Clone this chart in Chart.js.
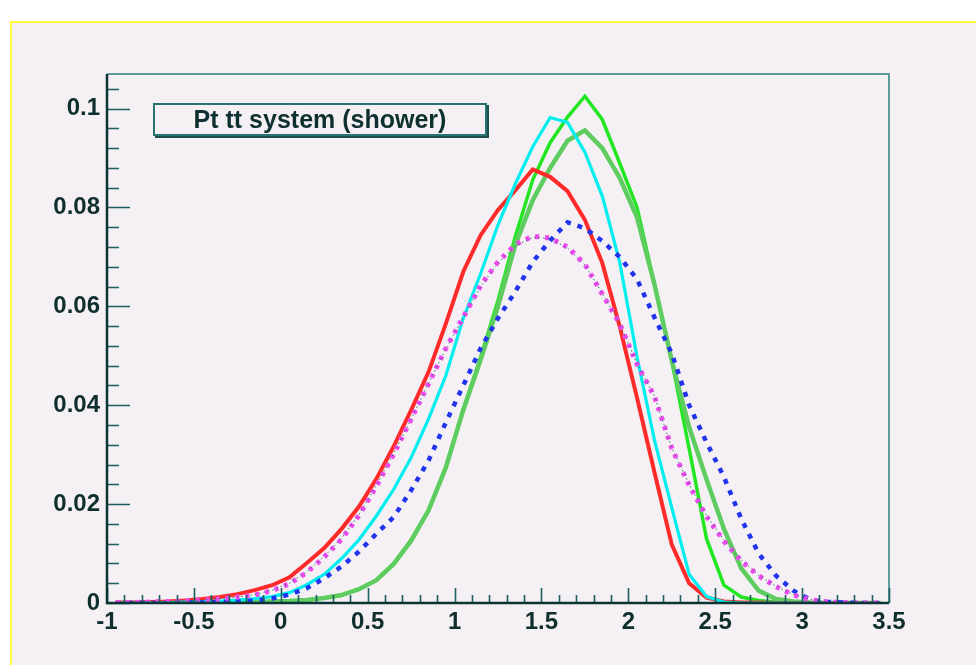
<!DOCTYPE html>
<html><head><meta charset="utf-8">
<script src="https://cdn.jsdelivr.net/npm/chart.js@4.4.1/dist/chart.umd.min.js"></script>
<style>
html,body{margin:0;padding:0;background:#ffffff;}
#wrap{position:relative;width:976px;height:665px;overflow:hidden;}
#bg{position:absolute;left:10px;top:21px;width:966px;height:644px;background:#f4f0f4;border-left:2px solid #ffff3a;border-top:2px solid #ffff3a;}
#c{position:absolute;left:0;top:0;}
#title{position:absolute;left:153px;top:103px;width:330px;height:29px;border:2px solid #2a7272;box-shadow:2px 2px 0 #1d4f4f;
 font:bold 25px "Liberation Sans",Arial,sans-serif;color:#0f3030;text-align:center;line-height:29px;background:#f4f0f4;}
</style></head>
<body>
<div id="wrap">
<div id="bg"></div>
<canvas id="c" width="976" height="665"></canvas>
<div id="title">Pt tt system (shower)</div>
</div>
<script>
// bin centres
const xValues = [-0.95,-0.85,-0.75,-0.65,-0.55,-0.45,-0.35,-0.25,-0.15,-0.05,
 0.05,0.15,0.25,0.35,0.45,0.55,0.65,0.75,0.85,0.95,
 1.05,1.15,1.25,1.35,1.45,1.55,1.65,1.75,1.85,1.95,
 2.05,2.15,2.25,2.35,2.45,2.55,2.65,2.75,2.85,2.95,
 3.05,3.15,3.25,3.35,3.45];

const redValues = [0.0001,0.0001,0.0002,0.0003,0.0005,0.0008,0.0012,0.0018,0.0026,0.0036,
 0.0052,0.0081,0.0111,0.0150,0.0195,0.0251,0.0317,0.0390,0.0467,0.0565,
 0.0670,0.0744,0.0795,0.0835,0.0877,0.0862,0.0833,0.0775,0.0688,0.0560,
 0.0415,0.0265,0.0118,0.0040,0.0011,0.0003,0.0001,0.0001,0,0,
 0,0,0,0,0];

const cyanValues = [0,0,0.0001,0.0001,0.0002,0.0003,0.0004,0.0006,0.0009,0.0013,
 0.0021,0.0037,0.0058,0.0090,0.0128,0.0176,0.0230,0.0294,0.0372,0.0460,
 0.0576,0.0666,0.0765,0.0848,0.0923,0.0982,0.0972,0.0912,0.0823,0.0690,
 0.0498,0.0330,0.0193,0.0058,0.0013,0.0002,0,0,0,0,
 0,0,0,0,0];

const greenValues = [0,0,0,0,0.0001,0.0001,0.0001,0.0002,0.0002,0.0003,
 0.0004,0.0006,0.0010,0.0016,0.0028,0.0046,0.0080,0.0127,0.0188,0.0276,
 0.0392,0.0497,0.0612,0.0742,0.0856,0.0931,0.0983,0.1025,0.0978,0.0890,
 0.0800,0.0645,0.0490,0.0312,0.0130,0.0036,0.0012,0.0005,0.0002,0.0001,
 0,0,0,0,0];

const lightGreenValues = [0,0,0,0,0.0001,0.0001,0.0001,0.0002,0.0002,0.0003,
 0.0004,0.0006,0.0010,0.0016,0.0028,0.0046,0.0079,0.0126,0.0187,0.0274,
 0.0390,0.0492,0.0600,0.0725,0.0815,0.0880,0.0935,0.0956,0.0920,0.0860,
 0.0780,0.0645,0.0490,0.0356,0.0250,0.0150,0.0070,0.0025,0.0008,0.0003,
 0.0001,0,0,0,0];

const blueValues = [0,0,0,0,0.0001,0.0001,0.0002,0.0003,0.0005,0.0009,
 0.0017,0.0030,0.0050,0.0074,0.0104,0.0140,0.0174,0.0228,0.0288,0.0365,
 0.0440,0.0515,0.0576,0.0630,0.0690,0.0733,0.0770,0.0758,0.0732,0.0700,
 0.0655,0.0578,0.0505,0.0400,0.0325,0.0255,0.0170,0.0100,0.0055,0.0025,
 0.0006,0.0002,0.0001,0,0];

const magentaValues = [0.0001,0.0001,0.0002,0.0003,0.0004,0.0006,0.0008,0.0012,0.0016,0.0025,
 0.0039,0.0062,0.0093,0.0129,0.0177,0.0236,0.0301,0.0372,0.0443,0.0515,
 0.0578,0.0642,0.0690,0.0725,0.0742,0.0738,0.0720,0.0685,0.0625,0.0565,
 0.0483,0.0418,0.0313,0.0238,0.0175,0.0125,0.0085,0.0055,0.0033,0.0016,
 0.0006,0.0002,0.0001,0,0];

const tealValues = [0.0001,0.0001,0.0002,0.0003,0.0004,0.0006,0.0009,0.0012,0.0017,0.0026,
 0.0040,0.0063,0.0094,0.0131,0.0179,0.0238,0.0303,0.0372,0.0444,0.0514,
 0.0577,0.0640,0.0688,0.0722,0.0740,0.0737,0.0718,0.0684,0.0626,0.0566,
 0.0484,0.0419,0.0314,0.0240,0.0177,0.0127,0.0087,0.0056,0.0034,0.0017,
 0.0007,0.0002,0.0001,0,0];

const xTickValues = [-1,-0.5,0,0.5,1,1.5,2,2.5,3,3.5];
const xTickLabels = ['-1','-0.5','0','0.5','1','1.5','2','2.5','3','3.5'];
const yTickValues = [0,0.02,0.04,0.06,0.08,0.1];
const yTickLabels = ['0','0.02','0.04','0.06','0.08','0.1'];

const pts = arr => arr.map((v,i)=>({x:xValues[i], y:v}));

const framePlugin = {
  id:'frame',
  afterDraw(chart){
    const {ctx, chartArea:{left,right,top,bottom}, scales:{x,y}} = chart;
    ctx.save();
    ctx.lineCap='butt';
    ctx.strokeStyle='#2b8080'; ctx.lineWidth=1.5;
    ctx.beginPath(); ctx.moveTo(left,top); ctx.lineTo(right,top); ctx.lineTo(right,bottom); ctx.stroke();
    ctx.strokeStyle='#1d5e5e'; ctx.lineWidth=1.6;
    ctx.beginPath();
    for(let k=0;k<=30;k++){
      const v=k*0.004; if(v>y.max) break;
      const py=Math.round(y.getPixelForValue(v))+0.5;
      const len=(k%5===0)?23:12;
      ctx.moveTo(left,py); ctx.lineTo(left+len,py);
    }
    for(let k=0;k<=45;k++){
      const v=-1+k*0.1;
      const px=Math.round(x.getPixelForValue(v))+0.5;
      const len=(k%5===0)?15:8;
      ctx.moveTo(px,bottom); ctx.lineTo(px,bottom-len);
    }
    ctx.stroke();
    ctx.strokeStyle='#0b3535'; ctx.lineWidth=2.5;
    ctx.beginPath(); ctx.moveTo(left,top); ctx.lineTo(left,bottom); ctx.lineTo(right,bottom); ctx.stroke();
    ctx.restore();
  }
};

const tickFont = {family:'"Liberation Sans", Arial, sans-serif', size:24, weight:'bold'};

new Chart(document.getElementById('c'), {
  type:'line',
  data:{datasets:[
    {label:'teal', data:pts(tealValues), borderColor:'#2f6a6a', borderWidth:1, borderDash:[1.5,3], order:1},
    {label:'magenta', data:pts(magentaValues), borderColor:'#f048f0', borderWidth:5, borderDash:[4,6], order:2},
    {label:'blue', data:pts(blueValues), borderColor:'#2233ee', borderWidth:4.5, borderDash:[5,7], order:3},
    {label:'cyan', data:pts(cyanValues), borderColor:'#00eeee', borderWidth:3.2, order:4},
    {label:'red', data:pts(redValues), borderColor:'#ff2a2a', borderWidth:4, order:5},
    {label:'lightgreen', data:pts(lightGreenValues), borderColor:'#5fcc5f', borderWidth:4.5, order:6},
    {label:'green', data:pts(greenValues), borderColor:'#22e622', borderWidth:3.5, order:7}
  ]},
  options:{
    responsive:false, animation:false, devicePixelRatio:1,
    layout:{padding:{left:0, top:74, right:87, bottom:0}},
    plugins:{legend:{display:false}, tooltip:{enabled:false}, title:{display:false}},
    elements:{point:{radius:0, hoverRadius:0}, line:{tension:0, fill:false, borderCapStyle:'butt', borderJoinStyle:'miter'}},
    scales:{
      x:{type:'linear', min:-1, max:3.5,
         grid:{display:false, drawTicks:false}, border:{display:false},
         afterBuildTicks:s=>{s.ticks = xTickValues.map(v=>({value:v}));},
         afterFit:s=>{s.height=62;},
         ticks:{autoSkip:false, maxRotation:0, minRotation:0, padding:5, color:'#0f2f2f', font:tickFont,
                callback:(v,i)=>xTickLabels[i]}},
      y:{type:'linear', min:0, max:0.107,
         grid:{display:false, drawTicks:false}, border:{display:false},
         afterBuildTicks:s=>{s.ticks = yTickValues.map(v=>({value:v}));},
         afterFit:s=>{s.width=107;},
         ticks:{padding:7, color:'#0f2f2f', font:tickFont, callback:(v,i)=>yTickLabels[i]}}
    }
  },
  plugins:[framePlugin]
});
</script>
</body></html>
